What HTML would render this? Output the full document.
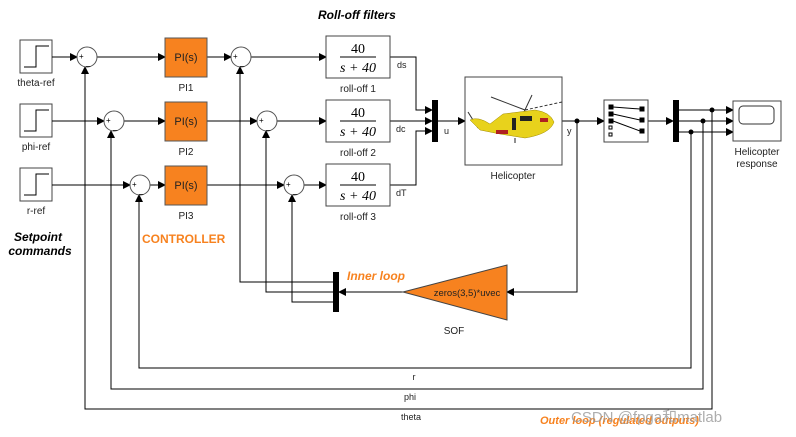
<!DOCTYPE html>
<html><head><meta charset="utf-8"><style>
body{margin:0;background:#fff}
svg{display:block;font-family:"Liberation Sans",sans-serif}
</style></head><body>
<svg width="796" height="437" viewBox="0 0 796 437" xmlns="http://www.w3.org/2000/svg">
<defs>
<marker id="a" markerWidth="8" markerHeight="8" refX="7" refY="4" orient="auto" markerUnits="userSpaceOnUse"><path d="M0,0 L8,4 L0,8 z" fill="#000"/></marker>
</defs>
<text x="318" y="19" font-size="12" font-weight="bold" font-style="italic">Roll-off filters</text>
<!-- steps -->
<g stroke="#444" fill="#fff" stroke-width="1">
<rect x="20" y="40" width="32" height="33"/>
<rect x="20" y="104" width="32" height="33"/>
<rect x="20" y="168" width="32" height="33"/>
</g>
<g stroke="#000" fill="none" stroke-width="1">
<path d="M24,67 H36 V46 H49"/>
<path d="M24,131 H36 V110 H49"/>
<path d="M24,195 H36 V174 H49"/>
</g>
<g font-size="10" text-anchor="middle" fill="#222">
<text x="36" y="86">theta-ref</text>
<text x="36" y="150">phi-ref</text>
<text x="36" y="214">r-ref</text>
<text x="186" y="91">PI1</text>
<text x="186" y="155">PI2</text>
<text x="186" y="219">PI3</text>
<text x="358" y="92">roll-off 1</text>
<text x="358" y="156">roll-off 2</text>
<text x="358" y="220">roll-off 3</text>
<text x="513" y="179">Helicopter</text>
<text x="757" y="155">Helicopter</text>
<text x="757" y="167">response</text>
<text x="454" y="334">SOF</text>
<text x="414" y="380" font-size="9">r</text>
<text x="410" y="400" font-size="9">phi</text>
<text x="411" y="420" font-size="9">theta</text>
</g>
<!-- wires -->
<g stroke="#000" fill="none" stroke-width="1">
<path d="M52,57 H77" marker-end="url(#a)"/>
<path d="M97,57 H165" marker-end="url(#a)"/>
<path d="M207,57 H231" marker-end="url(#a)"/>
<path d="M251,57 H326" marker-end="url(#a)"/>
<path d="M52,121 H104" marker-end="url(#a)"/>
<path d="M124,121 H165" marker-end="url(#a)"/>
<path d="M207,121 H257" marker-end="url(#a)"/>
<path d="M277,121 H326" marker-end="url(#a)"/>
<path d="M52,185 H130" marker-end="url(#a)"/>
<path d="M150,185 H165" marker-end="url(#a)"/>
<path d="M207,185 H284" marker-end="url(#a)"/>
<path d="M304,185 H326" marker-end="url(#a)"/>
<path d="M390,57 H416 V110 H432" marker-end="url(#a)"/>
<path d="M390,121 H432" marker-end="url(#a)"/>
<path d="M390,185 H416 V131 H432" marker-end="url(#a)"/>
<path d="M438,121 H465" marker-end="url(#a)"/>
<path d="M562,121 H604" marker-end="url(#a)"/>
<path d="M648,121 H673" marker-end="url(#a)"/>
<path d="M679,110 H733" marker-end="url(#a)"/>
<path d="M679,121 H733" marker-end="url(#a)"/>
<path d="M679,132 H733" marker-end="url(#a)"/>
<path d="M577,121 V292 H507" marker-end="url(#a)"/>
<path d="M403,292 H339" marker-end="url(#a)"/>
<path d="M333,282 H240 V67" marker-end="url(#a)"/>
<path d="M333,292 H266 V131" marker-end="url(#a)"/>
<path d="M333,302 H292 V195" marker-end="url(#a)"/>
<path d="M691,132 V368 H139 V195" marker-end="url(#a)"/>
<path d="M703,121 V389 H111 V131" marker-end="url(#a)"/>
<path d="M712,110 V409 H85 V67" marker-end="url(#a)"/>
</g>
<g fill="#000">
<circle cx="577" cy="121" r="2.5"/>
<circle cx="712" cy="110" r="2.5"/>
<circle cx="703" cy="121" r="2.5"/>
<circle cx="691" cy="132" r="2.5"/>
</g>
<!-- sums -->
<g stroke="#555" fill="#fff" stroke-width="1">
<circle cx="87" cy="57" r="10"/><circle cx="114" cy="121" r="10"/><circle cx="140" cy="185" r="10"/>
<circle cx="241" cy="57" r="10"/><circle cx="267" cy="121" r="10"/><circle cx="294" cy="185" r="10"/>
</g>
<g font-size="8" fill="#000">
<text x="79" y="59">+</text><text x="86" y="65">_</text>
<text x="106" y="123">+</text><text x="113" y="129">_</text>
<text x="132" y="187">+</text><text x="139" y="193">_</text>
<text x="233" y="59">+</text><text x="240" y="65">_</text>
<text x="259" y="123">+</text><text x="266" y="129">_</text>
<text x="286" y="187">+</text><text x="293" y="193">_</text>
</g>
<!-- PI -->
<g fill="#f7821f" stroke="#555">
<rect x="165" y="38" width="42" height="39"/>
<rect x="165" y="102" width="42" height="39"/>
<rect x="165" y="166" width="42" height="39"/>
</g>
<g font-size="11" text-anchor="middle" fill="#222">
<text x="186" y="61">PI(s)</text><text x="186" y="125">PI(s)</text><text x="186" y="189">PI(s)</text>
</g>
<!-- rolloff -->
<g stroke="#444" fill="#fff">
<rect x="326" y="36" width="64" height="42"/>
<rect x="326" y="100" width="64" height="42"/>
<rect x="326" y="164" width="64" height="42"/>
</g>
<g font-family="Liberation Serif,serif" font-size="14" text-anchor="middle" fill="#000">
<text x="358" y="53">40</text><line x1="340" y1="57" x2="376" y2="57" stroke="#000"/><text x="358" y="72" font-style="italic">s + 40</text>
<text x="358" y="117">40</text><line x1="340" y1="121" x2="376" y2="121" stroke="#000"/><text x="358" y="136" font-style="italic">s + 40</text>
<text x="358" y="181">40</text><line x1="340" y1="185" x2="376" y2="185" stroke="#000"/><text x="358" y="200" font-style="italic">s + 40</text>
</g>
<g font-size="9" fill="#222">
<text x="397" y="68">ds</text><text x="396" y="132">dc</text><text x="396" y="196">dT</text>
<text x="444" y="134">u</text><text x="567" y="134">y</text>
</g>
<!-- muxes -->
<rect x="432" y="100" width="6" height="42" fill="#000"/>
<rect x="673" y="100" width="6" height="42" fill="#000"/>
<rect x="333" y="272" width="6" height="40" fill="#000"/>
<!-- helicopter -->
<rect x="465" y="77" width="97" height="88" fill="#fff" stroke="#444"/>
<g>
<line x1="491" y1="97" x2="525" y2="110" stroke="#333"/>
<line x1="525" y1="110" x2="562" y2="102" stroke="#333" stroke-dasharray="3,2"/>
<line x1="532" y1="95" x2="524" y2="112" stroke="#333"/>
<line x1="468" y1="112" x2="478" y2="128" stroke="#333"/>
<path d="M470,120 Q478,116 490,124 L503,114 L535,110 Q550,112 554,122 Q550,134 525,138 L500,134 L480,130 z" fill="#e8d21c" stroke="#a08a00" stroke-width="0.5"/>
<rect x="512" y="118" width="4" height="12" fill="#222"/>
<rect x="520" y="116" width="12" height="5" fill="#222"/>
<rect x="496" y="130" width="12" height="4" fill="#b02020"/>
<rect x="540" y="118" width="8" height="4" fill="#b02020"/>
<line x1="515" y1="138" x2="515" y2="143" stroke="#222"/>
</g>
<!-- selector -->
<rect x="604" y="100" width="44" height="42" fill="#fff" stroke="#444"/>
<g fill="#000" stroke="#000">
<rect x="609" y="105" width="4" height="4"/><rect x="609" y="112" width="4" height="4"/><rect x="609" y="119" width="4" height="4"/>
<rect x="609" y="126" width="3" height="3" fill="#fff"/><rect x="609" y="133" width="3" height="3" fill="#fff"/>
<rect x="640" y="107" width="4" height="4"/><rect x="640" y="118" width="4" height="4"/><rect x="640" y="129" width="4" height="4"/>
<path d="M613,107 L640,109 M613,114 L640,120 M613,121 L640,131" fill="none"/>
</g>
<!-- scope -->
<rect x="733" y="101" width="48" height="40" fill="#fff" stroke="#444"/>
<rect x="739" y="106" width="35" height="18" rx="4" fill="#fff" stroke="#333"/>
<!-- SOF -->
<path d="M403,292 L507,265 L507,320 z" fill="#f7821f" stroke="#444"/>
<text x="467" y="296" font-size="9.5" text-anchor="middle" fill="#222">zeros(3,5)*uvec</text>
<!-- labels -->
<text x="142" y="243" font-size="12" font-weight="bold" fill="#f7821f">CONTROLLER</text>
<text x="38" y="241" font-size="12" font-weight="bold" font-style="italic" text-anchor="middle">Setpoint</text>
<text x="40" y="255" font-size="12" font-weight="bold" font-style="italic" text-anchor="middle">commands</text>
<text x="347" y="280" font-size="12" font-weight="bold" font-style="italic" fill="#f7821f">Inner loop</text>
<text x="540" y="424" font-size="11" font-weight="bold" font-style="italic" fill="#f7821f">Outer loop (regulated outputs)</text>
<text x="571" y="422" font-size="15" fill="#999" fill-opacity="0.8">CSDN @fpga和matlab</text>
</svg>
</body></html>
